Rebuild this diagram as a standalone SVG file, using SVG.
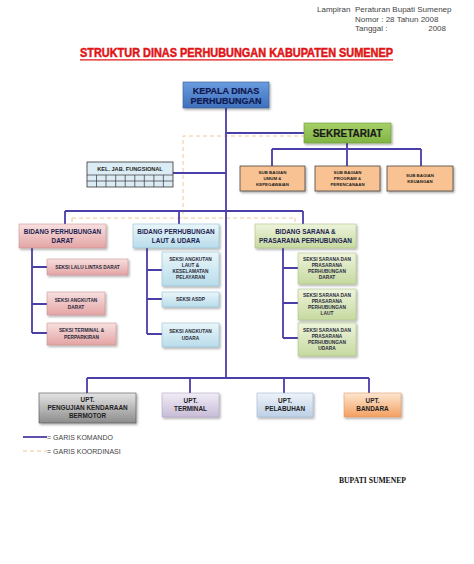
<svg xmlns="http://www.w3.org/2000/svg" width="474" height="564" viewBox="0 0 474 564">
<defs>
<linearGradient id="gBlue" x1="0" y1="0" x2="0" y2="1"><stop offset="0" stop-color="#6a9ce0"/><stop offset="1" stop-color="#3e70bc"/></linearGradient>
<linearGradient id="gGreen" x1="0" y1="0" x2="0" y2="1"><stop offset="0" stop-color="#a6d068"/><stop offset="1" stop-color="#80b444"/></linearGradient>
<linearGradient id="gPink" x1="0" y1="0" x2="0" y2="1"><stop offset="0" stop-color="#f8e0e0"/><stop offset="1" stop-color="#e4a4a4"/></linearGradient>
<linearGradient id="gCyan" x1="0" y1="0" x2="0" y2="1"><stop offset="0" stop-color="#eaf6fa"/><stop offset="1" stop-color="#b8dcea"/></linearGradient>
<linearGradient id="gLime" x1="0" y1="0" x2="0" y2="1"><stop offset="0" stop-color="#eef4dc"/><stop offset="1" stop-color="#c6d9a0"/></linearGradient>
<linearGradient id="gGray" x1="0" y1="0" x2="0" y2="1"><stop offset="0" stop-color="#e4e4e4"/><stop offset="1" stop-color="#8c8c8c"/></linearGradient>
<linearGradient id="gPurple" x1="0" y1="0" x2="0" y2="1"><stop offset="0" stop-color="#f0ecf6"/><stop offset="1" stop-color="#c8bcd8"/></linearGradient>
<linearGradient id="gSky" x1="0" y1="0" x2="0" y2="1"><stop offset="0" stop-color="#eef2f8"/><stop offset="1" stop-color="#bcd0e6"/></linearGradient>
<linearGradient id="gOrange" x1="0" y1="0" x2="0" y2="1"><stop offset="0" stop-color="#fde6d0"/><stop offset="1" stop-color="#f4a060"/></linearGradient>
<filter id="sh" x="-10%" y="-10%" width="130%" height="140%"><feDropShadow dx="1.2" dy="1.5" stdDeviation="0.8" flood-color="#000" flood-opacity="0.35"/></filter>
</defs>
<style>
text{font-family:"Liberation Sans",Arial,sans-serif;}
.hd{font-size:8px;fill:#444;}
.title{font-size:12.5px;font-weight:bold;fill:#e01515;stroke:#e01515;stroke-width:0.5;}
.b{font-weight:bold;text-anchor:middle;fill:#1e1e50;}
.t1{font-size:9px;fill:#101850;stroke:#101850;stroke-width:0.2;}
.t2{font-size:10px;fill:#1a1a1a;stroke:#1a1a1a;stroke-width:0.2;}
.t3{font-size:4.4px;fill:#222;}
.t4{font-size:6.4px;}
.t5{font-size:4.8px;fill:#2a2a3a;}
.t6{font-size:6.4px;fill:#222;}
.box{filter:url(#sh);}
.cmd{fill:none;stroke:#4a3ea8;stroke-width:1.8;}
.crd{fill:none;stroke:#f0c898;stroke-width:1;stroke-dasharray:4 3;}
.lg{font-size:7px;fill:#444;}
</style>
<rect width="474" height="564" fill="#ffffff"/>

<g id="header">
<text class="hd" x="317" y="12">Lampiran</text>
<text class="hd" x="355" y="12">Peraturan Bupati Sumenep</text>
<text class="hd" x="355" y="21.5">Nomor : 28 Tahun 2008</text>
<text class="hd" x="355" y="31">Tanggal :</text>
<text class="hd" x="446" y="31" text-anchor="end">2008</text>
</g>

<g id="title">
<text class="title" x="80" y="57" textLength="313" lengthAdjust="spacingAndGlyphs">STRUKTUR DINAS PERHUBUNGAN KABUPATEN SUMENEP</text>
<line x1="80" y1="59.8" x2="393" y2="59.8" stroke="#e01515" stroke-width="1.2"/>
</g>

<g id="connectors">
<path class="crd" d="M305 136 H183 V218 M72 218 H295 M72 218 V224 M295 218 V224"/>
<path class="cmd" d="M226 108 V378 M226 133 H305 M347 143 V149 M272 149 H421 M272 149 V166 M347 149 V166 M421 149 V166 M173 173 H226"/>
<path class="cmd" d="M65 211 H303 M65 211 V224 M179 211 V224 M303 211 V224"/>
<path class="cmd" d="M32 248 V333 M32 267 H47 M32 304 H47 M32 333 H47"/>
<path class="cmd" d="M147 248 V334 M147 270 H162 M147 299 H162 M147 334 H162"/>
<path class="cmd" d="M283 248 V338 M283 268 H298 M283 303 H298 M283 338 H298"/>
<path class="cmd" d="M87 378 H369 M87 378 V393 M190 378 V393 M284 378 V393 M369 378 V393"/>
</g>

<g id="kepala">
<rect class="box" x="183" y="82" width="86" height="26" fill="url(#gBlue)" stroke="#3a5c94" stroke-width="0.6"/>
<text class="b t1" x="226" y="93.5">KEPALA DINAS</text>
<text class="b t1" x="226" y="103.5">PERHUBUNGAN</text>
</g>

<g id="sekretariat">
<rect class="box" x="304" y="123" width="87" height="20" fill="url(#gGreen)" stroke="#6a9a38" stroke-width="0.6"/>
<text class="b t2" x="347.5" y="136.5">SEKRETARIAT</text>
</g>

<g id="sub-umum">
<rect class="box" x="240" y="166" width="65" height="25" fill="#f9c293" stroke="#333" stroke-width="0.7"/>
<text class="b t3" x="272.5" y="174">SUB BAGIAN</text>
<text class="b t3" x="272.5" y="180">UMUM &amp;</text>
<text class="b t3" x="272.5" y="186">KEPEGAWAIAN</text>
</g>
<g id="sub-program">
<rect class="box" x="315" y="166" width="65" height="25" fill="#f9c293" stroke="#333" stroke-width="0.7"/>
<text class="b t3" x="347.5" y="174">SUB BAGIAN</text>
<text class="b t3" x="347.5" y="180">PROGRAM &amp;</text>
<text class="b t3" x="347.5" y="186">PERENCANAAN</text>
</g>
<g id="sub-keuangan">
<rect class="box" x="387" y="166" width="66" height="25" fill="#f9c293" stroke="#333" stroke-width="0.7"/>
<text class="b t3" x="420" y="177">SUB BAGIAN</text>
<text class="b t3" x="420" y="183">KEUANGAN</text>
</g>

<g id="kel-jab">
<rect x="87" y="162" width="86" height="25" fill="#dcecf4" stroke="#333" stroke-width="0.8"/>
<path d="M87 175 H173 M87 181 H173 M96.5 175 V187 M106 175 V187 M115.7 175 V187 M125.2 175 V187 M134.8 175 V187 M144.3 175 V187 M153.9 175 V187 M163.4 175 V187" stroke="#333" stroke-width="0.7" fill="none"/>
<text class="b" x="130" y="171" style="font-size:5.6px;fill:#222">KEL. JAB. FUNGSIONAL</text>
</g>

<g id="bidang-darat">
<rect class="box" x="19" y="224" width="87" height="24" fill="url(#gPink)" stroke="#c88888" stroke-width="0.5"/>
<text class="b t4" x="62.5" y="234">BIDANG PERHUBUNGAN</text>
<text class="b t4" x="62.5" y="242.5">DARAT</text>
</g>
<g id="bidang-laut">
<rect class="box" x="133" y="224" width="86" height="24" fill="url(#gCyan)" stroke="#88b8cc" stroke-width="0.5"/>
<text class="b t4" x="176" y="234">BIDANG PERHUBUNGAN</text>
<text class="b t4" x="176" y="242.5">LAUT &amp; UDARA</text>
</g>
<g id="bidang-sarana">
<rect class="box" x="255" y="224" width="101" height="24" fill="url(#gLime)" stroke="#a4bc78" stroke-width="0.5"/>
<text class="b t4" x="305.5" y="234">BIDANG SARANA &amp;</text>
<text class="b t4" x="305.5" y="242.5">PRASARANA PERHUBUNGAN</text>
</g>

<g id="seksi-lalu-lintas">
<rect class="box" x="47" y="259" width="81" height="16" fill="url(#gPink)" stroke="#c88888" stroke-width="0.5"/>
<text class="b t5" x="87.5" y="268.8">SEKSI LALU LINTAS DARAT</text>
</g>
<g id="seksi-angkutan-darat">
<rect class="box" x="47" y="292" width="58" height="23" fill="url(#gPink)" stroke="#c88888" stroke-width="0.5"/>
<text class="b t5" x="76" y="301.5">SEKSI ANGKUTAN</text>
<text class="b t5" x="76" y="308.5">DARAT</text>
</g>
<g id="seksi-terminal">
<rect class="box" x="47" y="323" width="69" height="22" fill="url(#gPink)" stroke="#c88888" stroke-width="0.5"/>
<text class="b t5" x="81.5" y="332">SEKSI TERMINAL &amp;</text>
<text class="b t5" x="81.5" y="339">PERPARKIRAN</text>
</g>

<g id="seksi-angkutan-laut">
<rect class="box" x="162" y="252" width="57" height="34" fill="url(#gCyan)" stroke="#88b8cc" stroke-width="0.5"/>
<text class="b t5" x="190.5" y="261">SEKSI ANGKUTAN</text>
<text class="b t5" x="190.5" y="267">LAUT &amp;</text>
<text class="b t5" x="190.5" y="273">KESELAMATAN</text>
<text class="b t5" x="190.5" y="279">PELAYARAN</text>
</g>
<g id="seksi-asdp">
<rect class="box" x="162" y="292" width="57" height="15" fill="url(#gCyan)" stroke="#88b8cc" stroke-width="0.5"/>
<text class="b t5" x="190.5" y="301.3">SEKSI ASDP</text>
</g>
<g id="seksi-angkutan-udara">
<rect class="box" x="162" y="323" width="57" height="24" fill="url(#gCyan)" stroke="#88b8cc" stroke-width="0.5"/>
<text class="b t5" x="190.5" y="332.5">SEKSI ANGKUTAN</text>
<text class="b t5" x="190.5" y="339.5">UDARA</text>
</g>

<g id="seksi-sarana-darat">
<rect class="box" x="298" y="253" width="58" height="31" fill="url(#gLime)" stroke="#a4bc78" stroke-width="0.5"/>
<text class="b t5" x="327" y="261">SEKSI SARANA DAN</text>
<text class="b t5" x="327" y="267">PRASARANA</text>
<text class="b t5" x="327" y="273">PERHUBUNGAN</text>
<text class="b t5" x="327" y="279">DARAT</text>
</g>
<g id="seksi-sarana-laut">
<rect class="box" x="298" y="289" width="58" height="31" fill="url(#gLime)" stroke="#a4bc78" stroke-width="0.5"/>
<text class="b t5" x="327" y="297">SEKSI SARANA DAN</text>
<text class="b t5" x="327" y="303">PRASARANA</text>
<text class="b t5" x="327" y="309">PERHUBUNGAN</text>
<text class="b t5" x="327" y="315">LAUT</text>
</g>
<g id="seksi-sarana-udara">
<rect class="box" x="298" y="323" width="58" height="33" fill="url(#gLime)" stroke="#a4bc78" stroke-width="0.5"/>
<text class="b t5" x="327" y="331.5">SEKSI SARANA DAN</text>
<text class="b t5" x="327" y="337.5">PRASARANA</text>
<text class="b t5" x="327" y="343.5">PERHUBUNGAN</text>
<text class="b t5" x="327" y="349.5">UDARA</text>
</g>

<g id="upt-pengujian">
<rect class="box" x="39" y="393" width="97" height="30" fill="url(#gGray)" stroke="#555" stroke-width="0.6"/>
<text class="b t6" x="87.5" y="401.5">UPT.</text>
<text class="b t6" x="87.5" y="409.5">PENGUJIAN KENDARAAN</text>
<text class="b t6" x="87.5" y="417.5">BERMOTOR</text>
</g>
<g id="upt-terminal">
<rect class="box" x="162" y="393" width="57" height="24" fill="url(#gPurple)" stroke="#a89cbc" stroke-width="0.5"/>
<text class="b t6" x="190.5" y="402.5">UPT.</text>
<text class="b t6" x="190.5" y="410.5">TERMINAL</text>
</g>
<g id="upt-pelabuhan">
<rect class="box" x="257" y="393" width="56" height="24" fill="url(#gSky)" stroke="#98b0cc" stroke-width="0.5"/>
<text class="b t6" x="285" y="402.5">UPT.</text>
<text class="b t6" x="285" y="410.5">PELABUHAN</text>
</g>
<g id="upt-bandara">
<rect class="box" x="344" y="393" width="57" height="24" fill="url(#gOrange)" stroke="#e09060" stroke-width="0.5"/>
<text class="b t6" x="372.5" y="402.5">UPT.</text>
<text class="b t6" x="372.5" y="410.5">BANDARA</text>
</g>

<g id="legend">
<line class="cmd" x1="23" y1="437" x2="47" y2="437"/>
<text class="lg" x="47" y="439.5">= GARIS KOMANDO</text>
<line class="crd" x1="23" y1="451" x2="47" y2="451"/>
<text class="lg" x="47" y="453.5">= GARIS KOORDINASI</text>
</g>

<g id="signature">
<text x="339" y="483" style="font-family:'Liberation Serif','Times New Roman',serif;font-size:8px;font-weight:bold;fill:#111" textLength="67" lengthAdjust="spacingAndGlyphs">BUPATI SUMENEP</text>
</g>
</svg>
